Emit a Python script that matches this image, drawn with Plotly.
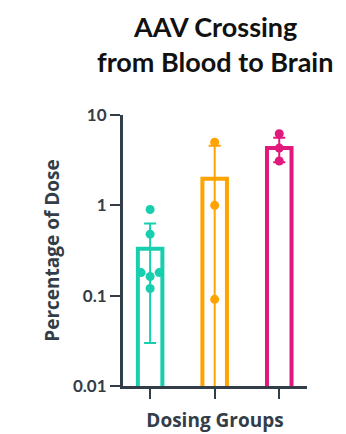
import plotly.graph_objects as go

groups = ["Group A", "Group B", "Group C"]
means = [0.33, 1.97, 4.3]
sds = [0.30, 2.6, 1.3]
teal_points = [0.9, 0.48, 0.18, 0.163, 0.18, 0.12]
orange_points = [5.0, 1.0, 0.091]
pink_points = [6.2, 4.3, 3.1]
tick_vals = [0.01, 0.1, 1, 10]
tick_text = ["0.01", "0.1", "1", "10"]
title_lines = ["AAV Crossing", "from Blood to Brain"]

colors = ["#17cfae", "#ffa300", "#e2197c"]
jitters = [[0, 0, -0.14, 0, 0.14, 0], [0, 0, 0], [0, 0, 0]]
points = [teal_points, orange_points, pink_points]
dark = "#333d47"

W, H = 338, 426
ML, MR, MT, MB = 115, 39, 107, 48
plot_h = H - MT - MB

fig = go.Figure()
xs = list(range(len(groups)))
for i, g in enumerate(groups):
    lower = min(sds[i], means[i] * 0.99999)
    fig.add_trace(go.Bar(
        x=[xs[i]], y=[means[i]], width=0.38,
        marker=dict(color="rgba(0,0,0,0)", line=dict(color=colors[i], width=4)),
        error_y=dict(type="data", array=[sds[i]], arrayminus=[lower],
                     color=colors[i], thickness=2, width=6),
        showlegend=False, name=g,
    ))
for i, g in enumerate(groups):
    fig.add_trace(go.Scatter(
        x=[xs[i] + j for j in jitters[i]], y=points[i], mode="markers",
        marker=dict(color=colors[i], size=9), showlegend=False, name=g,
    ))

title_y_px = [18, 53]
annotations = [
    dict(text=t, x=0.5, xref="paper", xanchor="center",
         y=(H - MB - py) / plot_h, yref="paper", yanchor="middle",
         showarrow=False, borderpad=0,
         font=dict(family="Lato", size=27, color="#111111", weight="bold"))
    for t, py in zip(title_lines, title_y_px)
]

fig.update_layout(
    width=W, height=H,
    margin=dict(l=ML, r=MR, t=MT, b=MB),
    paper_bgcolor="white", plot_bgcolor="white",
    annotations=annotations,
    barmode="overlay",
)
fig.update_xaxes(range=[-0.42, 2.43], tickvals=xs, ticktext=["", "", ""],
                 ticks="outside", ticklen=10, tickwidth=2, tickcolor=dark,
                 showline=True, linewidth=3, linecolor=dark, showgrid=False, zeroline=False,
                 title=dict(text="Dosing Groups", standoff=14,
                            font=dict(family="Open Sans", size=19, color=dark, weight="bold")))
fig.update_yaxes(type="log", range=[-2, 1], tickvals=tick_vals, ticktext=tick_text,
                 ticks="outside", ticklen=10, tickwidth=2, tickcolor=dark,
                 showline=True, linewidth=3, linecolor=dark, showgrid=False, zeroline=False,
                 tickfont=dict(family="Lato", size=17, color=dark, weight="bold"),
                 title=dict(text="Percentage of Dose", standoff=9,
                            font=dict(family="Open Sans", size=19, color=dark, weight="bold")))
fig.write_html("out.html")
